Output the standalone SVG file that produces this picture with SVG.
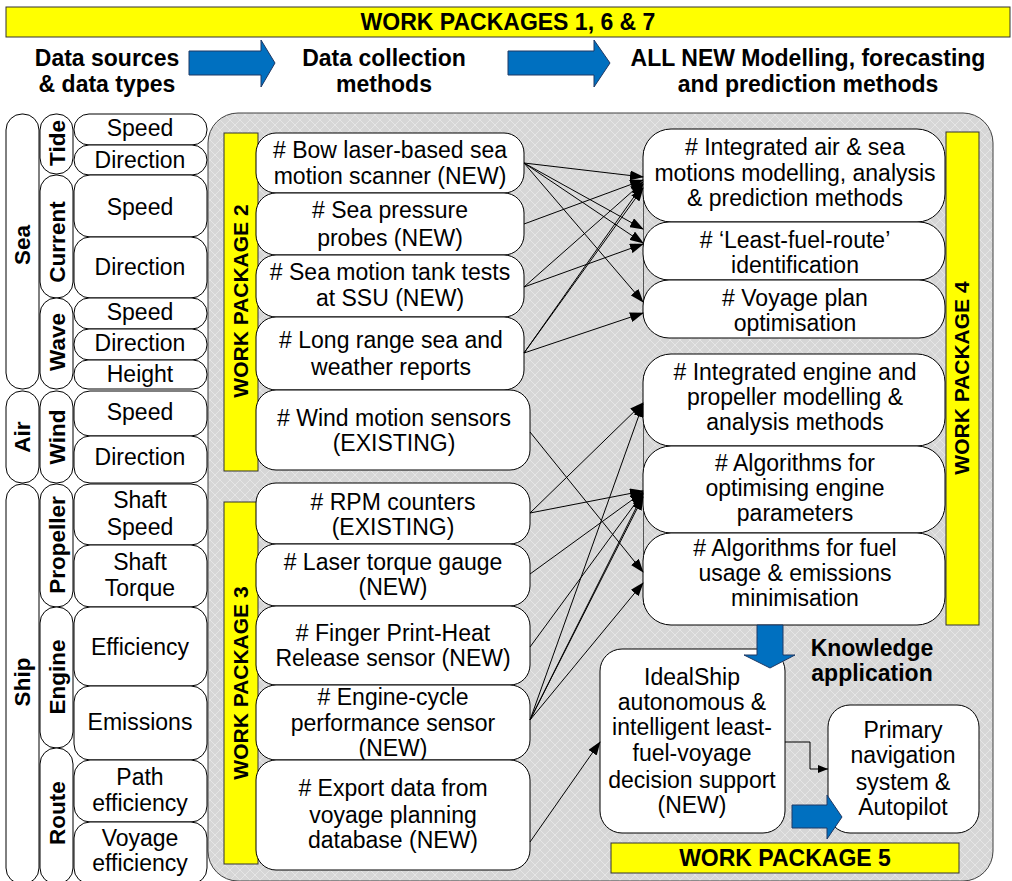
<svg xmlns="http://www.w3.org/2000/svg" width="1012" height="881" viewBox="0 0 1012 881">
<defs>
<pattern id="hatch" width="10" height="10" patternUnits="userSpaceOnUse">
<rect width="10" height="10" fill="#d6d6d6"/>
<path d="M0,0 L10,10 M10,0 L0,10" stroke="#e8e8e8" stroke-width="0.8"/>
</pattern>
<marker id="ah" markerWidth="14" markerHeight="10" refX="13" refY="5" orient="auto" markerUnits="userSpaceOnUse">
<path d="M0,0 L14,5 L0,10 Z" fill="#000"/>
</marker>
<marker id="ahs" markerWidth="10" markerHeight="8" refX="10" refY="4" orient="auto" markerUnits="userSpaceOnUse">
<path d="M0,0 L10,4 L0,8 Z" fill="#000"/>
</marker>
</defs>
<style>
.t{font-family:"Liberation Sans",Arial,sans-serif;font-size:23px;fill:#000;text-anchor:middle}
.b{font-family:"Liberation Sans",Arial,sans-serif;font-size:23px;font-weight:bold;fill:#000;text-anchor:middle}
.r{font-family:"Liberation Sans",Arial,sans-serif;font-size:21px;font-weight:bold;fill:#000;text-anchor:middle}
.rl{font-family:"Liberation Sans",Arial,sans-serif;font-size:22.5px;font-weight:bold;fill:#000;text-anchor:middle}
.pill{fill:#fff;stroke:#000;stroke-width:1}
.box{fill:#fff;stroke:#000;stroke-width:1}
.wp{fill:#ffff00;stroke:#333;stroke-width:1}
.blue{fill:#0070c0;stroke:#1f3864;stroke-width:1}
.c{fill:none;stroke:#000;stroke-width:1;marker-end:url(#ah)}
</style>
<rect width="1012" height="881" fill="#fff"/>

<g id="banner">
<rect class="wp" x="6" y="7" width="1004" height="30"/>
<text class="b" x="508" y="30">WORK PACKAGES 1, 6 &amp; 7</text>
</g>

<g id="headers">
<text class="b" x="107" y="66">Data sources</text>
<text class="b" x="107" y="92">&amp; data types</text>
<path class="blue" d="M189,51 H261 V40 L275,63 L261,87 V75 H189 Z"/>
<text class="b" x="384" y="66">Data collection</text>
<text class="b" x="384" y="92">methods</text>
<path class="blue" d="M508,51 H594 V40 L610,63 L594,87 V75 H508 Z"/>
<text class="b" x="808" y="66">ALL NEW Modelling, forecasting</text>
<text class="b" x="808" y="92">and prediction methods</text>
</g>

<g id="panel">
<rect x="208" y="113" width="785" height="768" rx="30" fill="url(#hatch)" stroke="#404040" stroke-width="1"/>
</g>

<g id="left-column">
<rect class="pill" x="6" y="114" width="33" height="275" rx="16"/>
<text class="rl" transform="translate(22,245) rotate(-90)" dy="0.35em">Sea</text>
<rect class="pill" x="6" y="391" width="33" height="92" rx="16"/>
<text class="rl" transform="translate(22,437) rotate(-90)" dy="0.35em">Air</text>
<rect class="pill" x="6" y="484" width="33" height="400" rx="16"/>
<text class="rl" transform="translate(22,682) rotate(-90)" dy="0.35em">Ship</text>

<rect class="pill" x="40" y="114" width="33" height="60" rx="16"/>
<text class="rl" transform="translate(57,143) rotate(-90)" dy="0.35em">Tide</text>
<rect class="pill" x="40" y="175" width="33" height="123" rx="16"/>
<text class="rl" transform="translate(57,242) rotate(-90)" dy="0.35em">Current</text>
<rect class="pill" x="40" y="298" width="33" height="91" rx="16"/>
<text class="rl" transform="translate(57,342) rotate(-90)" dy="0.35em">Wave</text>
<rect class="pill" x="40" y="391" width="33" height="92" rx="16"/>
<text class="rl" transform="translate(57,437) rotate(-90)" dy="0.35em">Wind</text>
<rect class="pill" x="40" y="484" width="33" height="123" rx="16"/>
<text class="rl" transform="translate(57,545) rotate(-90)" dy="0.35em">Propeller</text>
<rect class="pill" x="40" y="607" width="33" height="141" rx="16"/>
<text class="rl" transform="translate(57,677) rotate(-90)" dy="0.35em">Engine</text>
<rect class="pill" x="40" y="748" width="33" height="136" rx="16"/>
<text class="rl" transform="translate(57,813) rotate(-90)" dy="0.35em">Route</text>

<rect class="pill" x="74" y="114" width="133" height="31" rx="15"/>
<text class="t" x="140" y="136">Speed</text>
<rect class="pill" x="74" y="145" width="133" height="30" rx="15"/>
<text class="t" x="140" y="168">Direction</text>
<rect class="pill" x="74" y="175" width="133" height="62" rx="16"/>
<text class="t" x="140" y="215">Speed</text>
<rect class="pill" x="74" y="237" width="133" height="61" rx="16"/>
<text class="t" x="140" y="275">Direction</text>
<rect class="pill" x="74" y="298" width="133" height="31" rx="15"/>
<text class="t" x="140" y="320">Speed</text>
<rect class="pill" x="74" y="329" width="133" height="31" rx="15"/>
<text class="t" x="140" y="351">Direction</text>
<rect class="pill" x="74" y="360" width="133" height="29" rx="14"/>
<text class="t" x="140" y="382">Height</text>
<rect class="pill" x="74" y="391" width="133" height="45" rx="16"/>
<text class="t" x="140" y="420">Speed</text>
<rect class="pill" x="74" y="436" width="133" height="47" rx="16"/>
<text class="t" x="140" y="465">Direction</text>
<rect class="pill" x="74" y="484" width="133" height="61" rx="16"/>
<text class="t" x="140" y="508">Shaft</text>
<text class="t" x="140" y="535">Speed</text>
<rect class="pill" x="74" y="545" width="133" height="62" rx="16"/>
<text class="t" x="140" y="570">Shaft</text>
<text class="t" x="140" y="596">Torque</text>
<rect class="pill" x="74" y="607" width="133" height="79" rx="16"/>
<text class="t" x="140" y="655">Efficiency</text>
<rect class="pill" x="74" y="686" width="133" height="74" rx="16"/>
<text class="t" x="140" y="730">Emissions</text>
<rect class="pill" x="74" y="760" width="133" height="62" rx="16"/>
<text class="t" x="140" y="785">Path</text>
<text class="t" x="140" y="811">efficiency</text>
<rect class="pill" x="74" y="822" width="133" height="62" rx="16"/>
<text class="t" x="140" y="846">Voyage</text>
<text class="t" x="140" y="871">efficiency</text>
</g>

<g id="wp2-bar">
<rect class="wp" x="224" y="133" width="34" height="338"/>
<text class="r" transform="translate(241,301) rotate(-90)" dy="0.35em">WORK PACKAGE 2</text>
</g>
<g id="wp3-bar">
<rect class="wp" x="224" y="502" width="34" height="362"/>
<text class="r" transform="translate(241,683) rotate(-90)" dy="0.35em">WORK PACKAGE 3</text>
</g>

<g id="n-bow">
<rect class="box" x="256" y="133" width="268" height="60" rx="20"/>
<text class="t" x="390" y="158"># Bow laser-based sea</text>
<text class="t" x="390" y="184">motion scanner (NEW)</text>
</g>
<g id="n-pressure">
<rect class="box" x="256" y="193" width="268" height="62" rx="20"/>
<text class="t" x="390" y="218"># Sea pressure</text>
<text class="t" x="390" y="246">probes (NEW)</text>
</g>
<g id="n-tank">
<rect class="box" x="256" y="255" width="268" height="62" rx="20"/>
<text class="t" x="390" y="280"># Sea motion tank tests</text>
<text class="t" x="390" y="306">at SSU (NEW)</text>
</g>
<g id="n-longrange">
<rect class="box" x="256" y="317" width="268" height="73" rx="20"/>
<text class="t" x="391" y="348"># Long range sea and</text>
<text class="t" x="391" y="375">weather reports</text>
</g>
<g id="n-wind">
<rect class="box" x="256" y="390" width="274" height="80" rx="20"/>
<text class="t" x="394" y="426"># Wind motion sensors</text>
<text class="t" x="394" y="451">(EXISTING)</text>
</g>
<g id="n-rpm">
<rect class="box" x="256" y="483" width="274" height="61" rx="20"/>
<text class="t" x="393" y="510"># RPM counters</text>
<text class="t" x="393" y="535">(EXISTING)</text>
</g>
<g id="n-laser">
<rect class="box" x="256" y="544" width="274" height="62" rx="20"/>
<text class="t" x="393" y="570"># Laser torque gauge</text>
<text class="t" x="393" y="595">(NEW)</text>
</g>
<g id="n-finger">
<rect class="box" x="256" y="606" width="274" height="79" rx="20"/>
<text class="t" x="393" y="641"># Finger Print-Heat</text>
<text class="t" x="393" y="666">Release sensor (NEW)</text>
</g>
<g id="n-enginecycle">
<rect class="box" x="256" y="685" width="274" height="75" rx="20"/>
<text class="t" x="393" y="705"># Engine-cycle</text>
<text class="t" x="393" y="731">performance sensor</text>
<text class="t" x="393" y="756">(NEW)</text>
</g>
<g id="n-export">
<rect class="box" x="256" y="760" width="274" height="110" rx="20"/>
<text class="t" x="393" y="796"># Export data from</text>
<text class="t" x="393" y="823">voyage planning</text>
<text class="t" x="393" y="848">database (NEW)</text>
</g>

<g id="wp4-bar">
<rect class="wp" x="946" y="132" width="33" height="493"/>
<text class="r" transform="translate(962,378) rotate(-90)" dy="0.35em">WORK PACKAGE 4</text>
</g>

<g id="t-sea-group">
<line x1="643.5" y1="150" x2="643.5" y2="318" stroke="#555" stroke-width="1"/>
</g>
<g id="t-engine-group">
<line x1="643.5" y1="375" x2="643.5" y2="605" stroke="#555" stroke-width="1"/>
</g>

<g id="n-airsea">
<rect class="box" x="643" y="129" width="302" height="93" rx="28"/>
<text class="t" x="795" y="155"># Integrated air &amp; sea</text>
<text class="t" x="795" y="181">motions modelling, analysis</text>
<text class="t" x="795" y="206">&amp; prediction methods</text>
</g>
<g id="n-leastfuel">
<rect class="box" x="643" y="222" width="302" height="58" rx="26"/>
<text class="t" x="795" y="248"># ‘Least-fuel-route’</text>
<text class="t" x="795" y="273">identification</text>
</g>
<g id="n-voyageplan">
<rect class="box" x="643" y="280" width="302" height="58" rx="26"/>
<text class="t" x="795" y="306"># Voyage plan</text>
<text class="t" x="795" y="331">optimisation</text>
</g>
<g id="n-engineprop">
<rect class="box" x="643" y="354" width="302" height="92" rx="28"/>
<text class="t" x="795" y="380"># Integrated engine and</text>
<text class="t" x="795" y="405">propeller modelling &amp;</text>
<text class="t" x="795" y="430">analysis methods</text>
</g>
<g id="n-algoengine">
<rect class="box" x="643" y="446" width="302" height="87" rx="28"/>
<text class="t" x="795" y="471"># Algorithms for</text>
<text class="t" x="795" y="496">optimising engine</text>
<text class="t" x="795" y="521">parameters</text>
</g>
<g id="n-algofuel">
<rect class="box" x="643" y="533" width="302" height="92" rx="28"/>
<text class="t" x="795" y="556"># Algorithms for fuel</text>
<text class="t" x="795" y="581">usage &amp; emissions</text>
<text class="t" x="795" y="606">minimisation</text>
</g>

<g id="n-idealship">
<rect class="box" x="600" y="649" width="185" height="184" rx="22"/>
<text class="t" x="692" y="685">IdealShip</text>
<text class="t" x="692" y="710">autonomous &amp;</text>
<text class="t" x="692" y="735">intelligent least-</text>
<text class="t" x="692" y="761">fuel-voyage</text>
<text class="t" x="692" y="788">decision support</text>
<text class="t" x="692" y="813">(NEW)</text>
</g>
<g id="knowledge">
<path class="blue" d="M757,625 H783 V655 H795 L770,668 L744,655 H757 Z"/>
<text class="b" x="872" y="656">Knowledge</text>
<text class="b" x="872" y="681">application</text>
</g>
<g id="n-primary">
<rect class="box" x="828" y="705" width="151" height="128" rx="22"/>
<text class="t" x="903" y="738">Primary</text>
<text class="t" x="903" y="763">navigation</text>
<text class="t" x="903" y="790">system &amp;</text>
<text class="t" x="903" y="815">Autopilot</text>
</g>
<g id="exec-arrow">
<path class="blue" d="M792,805 H827 V795 L842,817 L827,839 V828 H792 Z"/>
</g>
<g id="wp5-bar">
<rect class="wp" x="611" y="843" width="348" height="30"/>
<text class="b" x="785" y="866">WORK PACKAGE 5</text>
</g>

<g id="connectors">
<line class="c" x1="524" y1="163" x2="643" y2="177"/>
<line class="c" x1="524" y1="163" x2="643" y2="229"/>
<line class="c" x1="524" y1="163" x2="643" y2="243"/>
<line class="c" x1="524" y1="163" x2="643" y2="302"/>
<line class="c" x1="524" y1="224" x2="643" y2="180"/>
<line class="c" x1="524" y1="287" x2="643" y2="182"/>
<line class="c" x1="524" y1="287" x2="643" y2="244"/>
<line class="c" x1="524" y1="353" x2="643" y2="184"/>
<line class="c" x1="524" y1="353" x2="643" y2="188"/>
<line class="c" x1="524" y1="353" x2="643" y2="313"/>

<line class="c" x1="530" y1="432" x2="643" y2="572"/>
<line class="c" x1="530" y1="513" x2="643" y2="403"/>
<line class="c" x1="530" y1="513" x2="643" y2="491"/>
<line class="c" x1="530" y1="574" x2="643" y2="492"/>
<line class="c" x1="530" y1="647" x2="643" y2="493"/>
<line class="c" x1="530" y1="720" x2="643" y2="404"/>
<line class="c" x1="530" y1="720" x2="643" y2="494"/>
<line class="c" x1="530" y1="720" x2="643" y2="497"/>
<line class="c" x1="530" y1="720" x2="643" y2="583"/>
<line class="c" x1="530" y1="842" x2="600" y2="742"/>

<path d="M785,742 H810 V769 H828" fill="none" stroke="#000" stroke-width="1" marker-end="url(#ahs)"/>
</g>
</svg>
